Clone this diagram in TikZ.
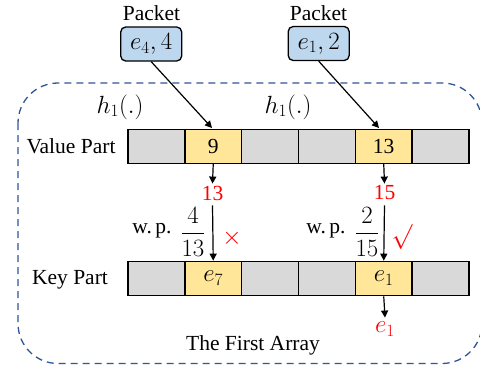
\documentclass[tikz,border=0pt]{standalone}
\usepackage{amsmath}
\usepackage{fontspec}
\setmainfont{Liberation Serif}
\usetikzlibrary{arrows.meta}
\definecolor{cgray}{HTML}{D9D9D9}
\definecolor{cyel}{HTML}{FFE699}
\definecolor{cblue}{HTML}{BDD7EE}
\definecolor{cdash}{HTML}{2F5597}
\definecolor{cred}{HTML}{FF0000}
\tikzset{
  cell/.style={draw, line width=1.6pt, fill=cgray, minimum width=56.83pt, minimum height=34pt, inner sep=0pt, anchor=center},
  hot/.style={cell, fill=cyel},
  pkt/.style={draw, line width=1.3pt, fill=cblue, rounded corners=5pt, minimum width=61pt, minimum height=34pt, inner sep=0pt},
  lbl/.style={inner sep=0pt, font=\fontsize{21.5}{25}\selectfont},
  mth/.style={inner sep=0pt, font=\fontsize{23}{27}\selectfont},
  arr/.style={line width=1.2pt, -{Triangle[length=7pt,width=7pt]}},
  redt/.style={text=cred}
}
\begin{document}
\begin{tikzpicture}[x=1pt,y=-1pt]
\useasboundingbox (0,0) rectangle (480,367);
% dashed container
\draw[cdash, line width=1.3pt, dash pattern=on 7pt off 5pt, rounded corners=40pt] (18,83) rectangle (482,363.5);
% packets
\node[lbl] (p1lab) at (151.5,13) {Packet};
\node[lbl] (p2lab) at (318.5,13) {Packet};
\node[pkt, mth] (p1) at (151.2,44) {$e_4,4$};
\node[pkt, mth] (p2) at (318.7,43.5) {$e_1,2$};
% rows
\foreach \i in {0,...,5} {
  \node[cell] (v\i) at ({128+56.83*(\i+0.5)},146.3) {};
  \node[cell] (k\i) at ({128+56.83*(\i+0.5)},278.5) {};
}
\node[hot, lbl] at (v1) {9};
\node[hot, lbl] at (v4) {13};
\node[hot, mth] at (k1) {$e_7$};
\node[hot, mth] at (k4) {$e_1$};
\node[lbl] (vp) at (71,146) {Value Part};
\node[lbl] (kp) at (70,280) {Key Part};
% hashes
\node[mth] (h1) at (120,107) {$h_1(.)$};
\node[mth] (h2) at (288,107) {$h_1(.)$};
\coordinate (t1) at (212,128);
\coordinate (t2) at (379,128);
\draw[arr] (p1.south) -- (t1);
\draw[arr] (p2.south) -- (t2);
% values out
\node[lbl, redt] (r1) at (212.5,193) {13};
\node[lbl, redt] (r2) at (384.5,193) {15};
\draw[arr] (v1.south) -- ([yshift=2pt]r1.north);
\draw[arr] (v4.south) -- ([yshift=2pt]r2.north);
% probability arrows
\draw[arr] ([yshift=-5pt]r1.south) -- (k1.north);
\draw[arr] ([yshift=-5pt]r2.south) -- (k4.north);
\node[lbl] (wp1) at (152,231) {w.\,p.};
\node[mth] (f1) at (193,232) {$\dfrac{4}{13}$};
\node[mth, redt] (x1) at (232,238) {$\times$};
\node[lbl] (wp2) at (326,231) {w.\,p.};
\node[mth] (f2) at (367,232) {$\dfrac{2}{15}$};
\node[mth, redt] (c2) at (402,237) {$\surd$};
% output
\node[mth, redt] (o1) at (385,329) {$e_1$};
\draw[arr] (k4.south) -- ([yshift=4pt]o1.north);
\node[lbl] (title) at (253,345) {The First Array};
\end{tikzpicture}
\end{document}
